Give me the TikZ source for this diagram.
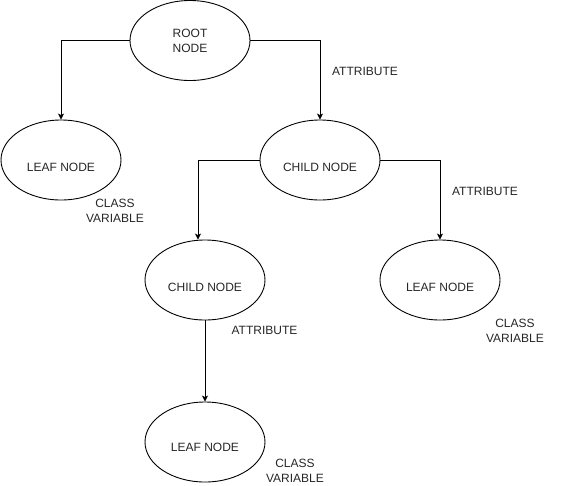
\documentclass[tikz,border=0pt]{standalone}
\usepackage{fontspec}
\setmainfont{Liberation Sans}
\usetikzlibrary{arrows.meta,shapes.geometric}
\begin{document}
\begin{tikzpicture}[x=1pt,y=-1pt,
  every node/.style={font=\fontsize{12}{15}\selectfont, text=black!85},
  ell/.style={draw=black, line width=0.9pt, ellipse, minimum width=120pt, minimum height=80pt, inner sep=0pt},
  tag/.style={align=center, inner sep=0pt},
  conn/.style={draw=black, line width=0.9pt, -{Stealth[length=6pt,width=6pt,inset=1.5pt]}}]
\useasboundingbox (0,0) rectangle (561,485);
\node[ell, align=center] (root) at (190,40.5) {ROOT\\NODE};
\node[ell, label={[yshift=-7pt]center:LEAF NODE}] (leafL) at (61,160) {};
\node[ell, label={[yshift=-7pt]center:CHILD NODE}] (child) at (320,160) {};
\node[ell, label={[yshift=-7pt]center:CHILD NODE}] (child2) at (205,280) {};
\node[ell, label={[yshift=-7pt]center:LEAF NODE}] (leafR) at (440,280) {};
\node[ell, label={[yshift=-5pt]center:LEAF NODE}] (leafB) at (205,442) {};
\draw[conn] (root.west) -| (leafL.north);
\draw[conn] (root.east) -| (child.north);
\draw[conn] (child.west) -| ([xshift=-7pt]child2.north);
\draw[conn] (child.east) -| (leafR.north);
\draw[conn] (child2.south) -- (leafB.north);
\node[tag] (a1) at (365,71) {ATTRIBUTE};
\node[tag] (a2) at (485,191) {ATTRIBUTE};
\node[tag] (a3) at (264.5,330) {ATTRIBUTE};
\node[tag] (c1) at (115,211) {CLASS\\VARIABLE};
\node[tag] (c2) at (515,331) {CLASS\\VARIABLE};
\node[tag] (c3) at (295,471) {CLASS\\VARIABLE};
\end{tikzpicture}
\end{document}
